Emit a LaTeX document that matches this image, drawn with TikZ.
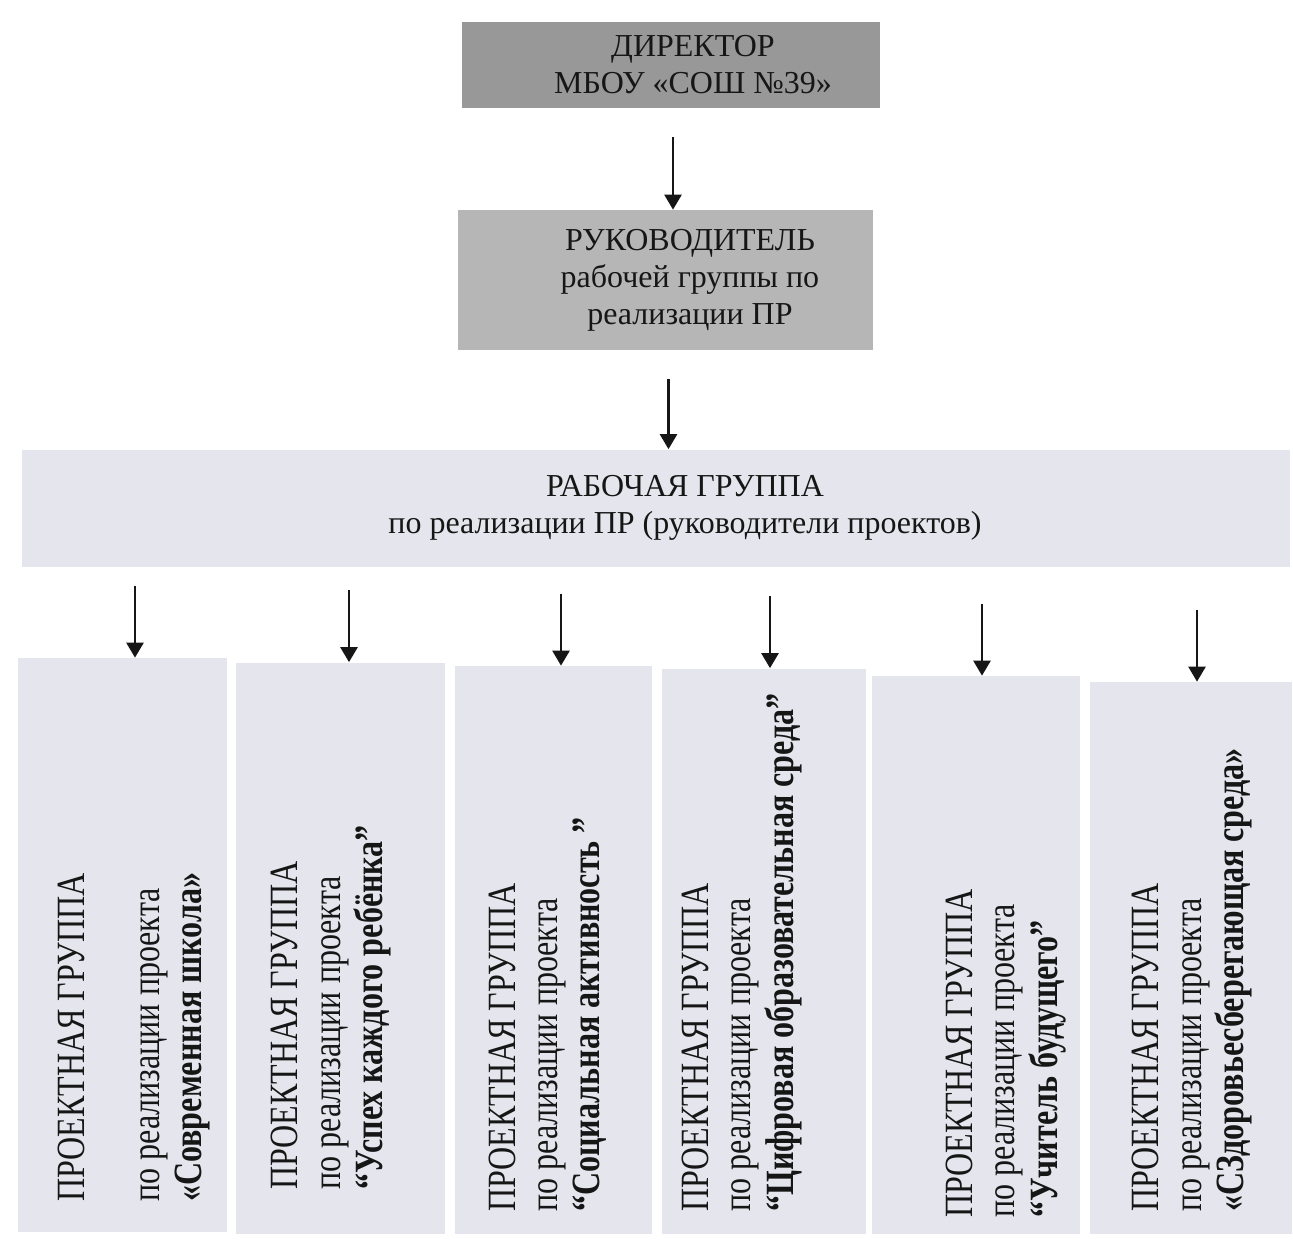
\documentclass[tikz,border=0pt]{standalone}
\usepackage{fontspec}
\setmainfont{Liberation Serif}
\usepackage{xcolor}
\usetikzlibrary{positioning,arrows.meta}

\definecolor{boxdark}{RGB}{152,152,152}
\definecolor{boxmid}{RGB}{182,182,182}
\definecolor{boxlight}{RGB}{229,230,237}
\definecolor{ink}{RGB}{22,22,22}

\tikzset{
  box/.style={fill=#1, draw=none, inner sep=0pt},
  toptext/.style={align=center, inner sep=0pt, text=ink, font=\fontsize{18.2}{21}\selectfont},
  coltext/.style={rotate=90, xscale=0.8, anchor=west, align=left, inner sep=0pt, text=ink, font=\fontsize{22.8}{24}\selectfont},
  arr/.style={-{Triangle[length=3mm,width=3.4mm]}, line width=0.5mm, draw=ink}
}

\begin{document}
\begin{tikzpicture}[x=0.2mm, y=-0.2mm]

% Page
\fill[white] (0,0) rectangle (1293,1248);
\useasboundingbox (0,0) rectangle (1293,1248);

% Top of the chart
\node[box=boxdark, minimum width=83.6mm, minimum height=17.2mm] (dir) at (671,65) {};
\node[toptext] (dirtxt) at ([xshift=4.4mm]dir.center) {ДИРЕКТОР\\ МБОУ «СОШ №39»};

\node[box=boxmid, minimum width=83mm, minimum height=28mm] (ruk) at (665,280) {};
\node[toptext] (ruktxt) at ([xshift=5mm]ruk.center) {РУКОВОДИТЕЛЬ\\ рабочей группы по\\ реализации ПР};

\node[box=boxlight, minimum width=253.6mm, minimum height=23.4mm] (work) at (656,508) {};
\node[toptext] (worktxt) at ([xshift=5.8mm]work.center) {РАБОЧАЯ ГРУППА\\ по реализации ПР (руководители проектов)};

\draw[arr] ([xshift=0.4mm,yshift=-5.8mm]dir.south) -- ([xshift=0.4mm]dir.south |- ruk.north);
\draw[arr] ([xshift=0.7mm,yshift=-5.8mm]ruk.south) -- ([xshift=0.7mm]ruk.south |- work.north);

% Project groups
\foreach \n/\cx/\cy/\w/\h/\dx in {1/122/945/209/574/2.6, 2/340/948/209/571/1.8, 3/553/950/197/568/1.6,
                                4/764/951/204/565/1.2, 5/976/955/208/558/1.2, 6/1191/958/202/552/1.2} {
  \node[box=boxlight, minimum width=\w*0.2mm, minimum height=\h*0.2mm] (c\n) at (\cx,\cy) {};
  \draw[arr] ([xshift=\dx mm,yshift=14.4mm]c\n.north) -- ([xshift=\dx mm]c\n.north);
}

\node[coltext] (t1) at (134,1202) {ПРОЕКТНАЯ ГРУППА\\[6.4mm] по реализации проекта\\ \textbf{«Современная школа»}};
\node[coltext] (t2) at (331,1190) {ПРОЕКТНАЯ ГРУППА\\ по реализации проекта\\ \textbf{“Успех каждого ребёнка”}};
\node[coltext] (t3) at (548,1212) {ПРОЕКТНАЯ ГРУППА\\ по реализации проекта\\ \textbf{“Социальная активность ”}};
\node[coltext] (t4) at (742,1212) {ПРОЕКТНАЯ ГРУППА\\ по реализации проекта\\ \textbf{“Цифровая образовательная среда”}};
\node[coltext] (t5) at (1006,1218) {ПРОЕКТНАЯ ГРУППА\\ по реализации проекта\\ \textbf{“Учитель будущего”}};
\node[coltext] (t6) at (1192,1212) {ПРОЕКТНАЯ ГРУППА\\ по реализации проекта\\ \textbf{«СЗдоровьесберегающая среда»}};

\end{tikzpicture}
\end{document}
